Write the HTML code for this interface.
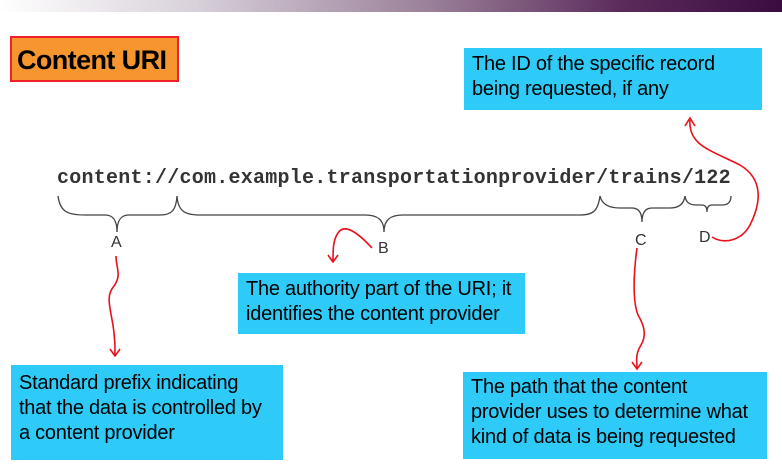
<!DOCTYPE html>
<html><head><meta charset="utf-8"><style>
body{margin:0;width:782px;height:476px;background:#fff;position:relative;overflow:hidden;font-family:"Liberation Sans",sans-serif}
.bar{position:absolute;left:0;top:0;width:782px;height:12px;background:linear-gradient(90deg,#fff 0%,#d8d0da 25%,#9a8099 55%,#5a2a5a 80%,#3a0c40 100%)}
.t{position:absolute;left:10px;top:36px;width:160px;height:42px;background:#f7962e;border:2px solid #f0202a;font-weight:bold;font-size:27px;line-height:44px;padding-left:5px;box-sizing:content-box;letter-spacing:-0.6px;white-space:nowrap}
.b{position:absolute;background:#2ecbf8;font-size:20px;line-height:25px;color:#000;padding:4px 8px;box-sizing:border-box;white-space:nowrap;letter-spacing:-0.25px}
.uri{position:absolute;left:57px;top:167px;font-family:"Liberation Mono",monospace;font-weight:bold;font-size:20px;letter-spacing:0.25px;color:#333;white-space:nowrap}
.l{position:absolute;font-size:16px;color:#333}
</style></head><body>
<div class="bar"></div>
<div class="t">Content URI</div>
<div class="b" style="left:464px;top:48px;width:298px;height:62px">The ID of the specific record<br>being requested, if any</div>
<div class="b" style="left:238px;top:273px;width:287px;height:61px">The authority part of the URI; it<br>identifies the content provider</div>
<div class="b" style="left:11px;top:365px;width:272px;height:95px;padding-top:6px">Standard prefix indicating<br>that the data is controlled by<br>a content provider</div>
<div class="b" style="left:463px;top:372px;width:304px;height:87px;padding-top:3px">The path that the content<br>provider uses to determine what<br>kind of data is being requested</div>
<div class="uri">content://com.example.transportationprovider/trains/122</div>
<div class="l" style="left:111px;top:234px">A</div>
<div class="l" style="left:378px;top:240px">B</div>
<div class="l" style="left:635px;top:232px">C</div>
<div class="l" style="left:699px;top:229px">D</div>
<svg width="782" height="476" style="position:absolute;left:0;top:0" fill="none">
<g stroke="#444" stroke-width="1.3">
<path d="M58,196 C60,212 68,215 85,215 L105,215 C113,215 117,220 117,232 C117,220 121,215 129,215 L160,215 C172,215 176,210 177,196"/>
<path d="M177,196 C178,212 186,215 200,215 L365,215 C378,215 384,220 384,232 C384,220 390,215 403,215 L580,215 C594,215 598,210 600,196"/>
<path d="M600,196 C602,205 610,208 620,208 L632,208 C639,208 642,213 642,222 C642,213 645,208 652,208 L670,208 C680,208 684,203 685,196"/>
<path d="M685,196 C686,203 690,205 697,205 L702,205 C706,205 707,208 707,212 C707,208 708,205 712,205 L722,205 C729,205 731,201 731,196"/>
</g>
<g stroke="#e8101a" stroke-width="1.6">
<path d="M116,256 C116,268 122,275 114,286 C102,300 116,315 115,355"/>
<path d="M110,349 L115,356 L120,349"/>
<path d="M372,248 C360,235 345,222 338,233 C333,240 333,250 333,261"/>
<path d="M328,255 L333,262 L338,255"/>
<path d="M637,248 C634,270 632,300 638,315 C644,325 647,335 641,345 C635,355 637,360 637,368"/>
<path d="M632,362 L637,369 L642,362"/>
<path d="M712,237 C725,245 742,240 750,225 C760,205 765,180 740,165 C710,150 688,145 690,120"/>
<path d="M685,126 L690,118 L695,126"/>
</g>
</svg>
</body></html>
